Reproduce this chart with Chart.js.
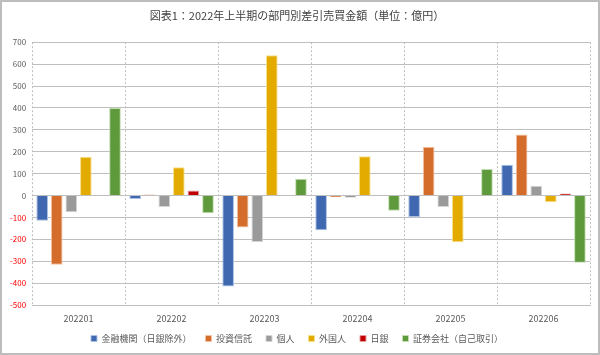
<!DOCTYPE html>
<html>
<head>
<meta charset="utf-8">
<script src="https://cdn.jsdelivr.net/npm/chart.js@4"></script>
<style>
html,body{margin:0;padding:0;background:#fff;}
#wrap{width:600px;height:355px;position:relative;}
</style>
</head>
<body>
<div id="wrap"><canvas id="c" width="600" height="355"></canvas></div>
<script>
const categories = ['202201','202202','202203','202204','202205','202206'];
const financial = [-115, -15, -415, -158, -97, 141];
const trust = [-315, 5, -145, -7, 223, 279];
const individual = [-76, -52, -212, -10, -52, 45];
const foreign = [177, 130, 641, 180, -213, -30];
const boj = [0, 23, 0, 0, 0, 10];
const securities = [400, -80, 77, -69, 121, -306];
const seriesNames = ['金融機関（日銀除外）','投資信託','個人','外国人','日銀','証券会社（自己取引）'];
const yTicks = {min: -500, max: 700, step: 100};

const colors = ['#3F68B0','#D46C2C','#9A9A9A','#E3AA00','#C00000','#5E9A3C'];
const borders = ['#A9BFE3','#F2C2A2','#D4D4D4','#F7E08A','#E89A9A','#C2DDB0'];
const seriesData = [financial, trust, individual, foreign, boj, securities];

const X_TRIM = 12;
const framePlugin = {
  id: 'frame',
  afterLayout(chart){
    const xs = chart.scales.x;
    if (xs) xs.bottom += X_TRIM;
  },
  beforeDraw(chart){
    const c = chart.ctx;
    c.save();
    c.fillStyle = '#fff';
    c.fillRect(0,0,chart.width,chart.height);
    c.restore();
  },
  afterDraw(chart){
    const c = chart.ctx;
    c.save();
    c.strokeStyle = '#BDBDBD';
    c.lineWidth = 2;
    c.strokeRect(1,1,chart.width-2,chart.height-2);
    c.restore();
  }
};

const FONT = "'Noto Sans CJK JP', 'Noto Sans', sans-serif";

new Chart(document.getElementById('c'), {
  type: 'bar',
  data: {
    labels: categories,
    datasets: seriesNames.map((n,i)=>({
      label: n,
      data: seriesData[i],
      backgroundColor: colors[i],
      borderColor: borders[i],
      borderWidth: 1,
      categoryPercentage: 0.94,
      barPercentage: 0.8
    }))
  },
  options: {
    responsive: false,
    animation: false,
    layout: {padding: {left: 4, right: 10, top: 0, bottom: 2}},
    plugins: {
      title: {
        display: true,
        text: '図表1：2022年上半期の部門別差引売買金額（単位：億円）',
        color: '#404040',
        font: {family: FONT, size: 11, weight: 'normal'},
        padding: {top: 9, bottom: 20}
      },
      legend: {
        position: 'bottom',
        labels: {
          boxWidth: 6, boxHeight: 6,
          color: '#595959',
          font: {family: FONT, size: 9},
          padding: 14
        }
      },
      tooltip: {enabled: false}
    },
    scales: {
      x: {
        afterFit(scale){ scale.height -= X_TRIM; },
        grid: {
          offset: true,
          display: true,
          color: '#BFBFBF',
          drawTicks: false
        },
        border: {display: true, color: '#BFBFBF', dash: [2,2]},
        ticks: {color: '#595959', font: {family: FONT, size: 9}, padding: 8}
      },
      y: {
        min: yTicks.min, max: yTicks.max,
        ticks: {
          stepSize: yTicks.step,
          color: ctx => ctx.tick.value < 0 ? '#FF0000' : '#595959',
          font: {family: FONT, size: 8},
          padding: 6
        },
        grid: {color: '#BFBFBF', drawTicks: false, lineWidth: 1},
        border: {display: false}
      }
    }
  },
  plugins: [framePlugin]
});
</script>
</body>
</html>
